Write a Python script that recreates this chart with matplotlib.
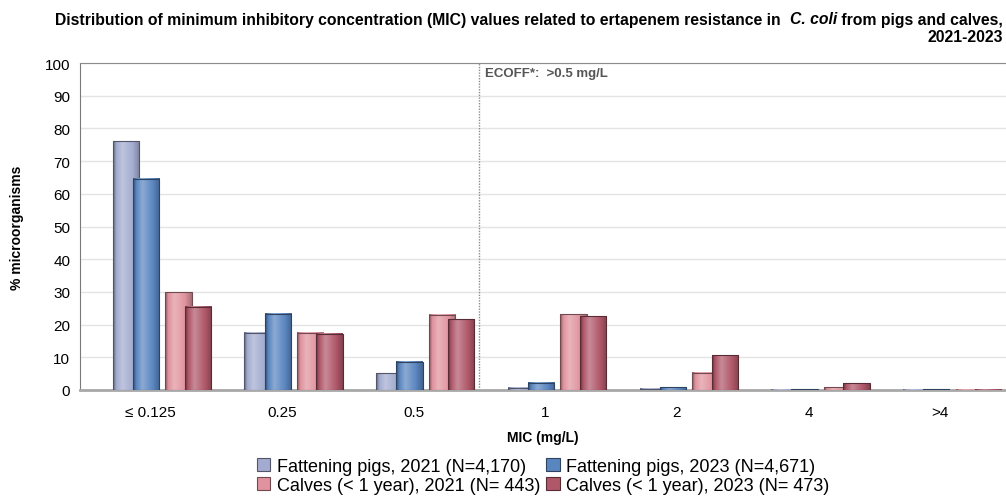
import matplotlib.pyplot as plt
import numpy as np
from matplotlib.colors import LinearSegmentedColormap, to_rgb
from matplotlib.patches import Patch

plt.rcParams['font.family'] = ['Liberation Sans', 'DejaVu Sans']

# MIC classes and % of isolates per class
mic_labels = ["≤ 0.125", "0.25", "0.5", "1", "2", "4", ">4"]
pigs_2021 = [76.0, 17.5, 5.1, 0.7, 0.4, 0.1, 0.1]
pigs_2023 = [64.6, 23.3, 8.7, 2.2, 0.8, 0.2, 0.2]
calves_2021 = [29.9, 17.5, 23.0, 23.1, 5.2, 0.8, 0.1]
calves_2023 = [25.4, 17.2, 21.6, 22.5, 10.6, 2.1, 0.1]
series_names = ["Fattening pigs, 2021 (N=4,170)", "Fattening pigs, 2023 (N=4,671)",
                "Calves (< 1 year), 2021 (N= 443)", "Calves (< 1 year), 2023 (N= 473)"]
ecoff_label = "ECOFF*:  >0.5 mg/L"
ecoff_pos = 2.5

colors = ["#a3acd0", "#5a86c0", "#e0939e", "#b0586a"]
offsets = [-0.283, -0.131, 0.116, 0.263]
bar_w = 0.2


def shaded_cmap(base):
    c = np.array(to_rgb(base))
    dark = c * 0.6
    light = c + (1 - c) * 0.3
    return LinearSegmentedColormap.from_list(
        "bar", [(0, dark), (0.12, c), (0.35, light), (0.75, c), (1, c * 0.75)])


fig = plt.figure(figsize=(10.06, 5.02), dpi=100)
ax = fig.add_axes([80 / 1006, 1 - 391 / 502, 926 / 1006, (391 - 64) / 502])

grad = np.linspace(0, 1, 64).reshape(1, -1)
x = np.arange(len(mic_labels))
for k, values in enumerate([pigs_2021, pigs_2023, calves_2021, calves_2023]):
    cmap = shaded_cmap(colors[k])
    edge = np.array(to_rgb(colors[k])) * 0.5
    for i, v in enumerate(values):
        left = x[i] + offsets[k]
        ax.imshow(grad, cmap=cmap, extent=[left, left + bar_w, 0, v],
                  aspect='auto', zorder=3 + k * 0.1, interpolation='bilinear')
        ax.bar(left, v, bar_w, align='edge', facecolor='none', edgecolor=edge,
               linewidth=0.8, zorder=3.05 + k * 0.1)

ax.set_xlim(-0.532, 6.499)
ax.set_ylim(0, 100)
ax.set_yticks(range(0, 101, 10))
ax.set_xticks(x)
ax.set_xticklabels(mic_labels)
ax.tick_params(axis='both', labelsize=11, length=0)
ax.tick_params(axis='x', pad=11)
ax.tick_params(axis='y', pad=7)
ax.grid(axis='y', color='#e4e4e4', linewidth=1, zorder=0)
ax.set_axisbelow(True)

ax.spines['right'].set_visible(False)
ax.spines['top'].set_color('#8c8c8c')
ax.spines['left'].set_color('#7a7a7a')
ax.spines['bottom'].set_color('#a8a8a8')
ax.spines['bottom'].set_linewidth(2)

ax.axvline(ecoff_pos, color='#8c8c8c', linestyle=(0, (1, 1)), linewidth=1, zorder=2)
ax.text(ecoff_pos + 0.04, 97, ecoff_label, fontsize=9.5, fontweight='bold',
        color='#555555', va='center', ha='left')

ax.set_ylabel("% microorganisms", fontsize=10, fontweight='bold', labelpad=15)
ax.set_xlabel("MIC (mg/L)", fontsize=10, fontweight='bold', labelpad=8)

# title with italic species name, built right to left
tfont = dict(family=['Liberation Sans'], fontsize=11.3, fontweight='bold')
ty = 1 - 20 / 502
t3 = fig.text(1003 / 1006, ty, " from pigs and calves,", ha='right', va='center', **tfont)
t2 = fig.text(0, ty, "C. coli", style='italic', ha='right', va='center', **tfont)
fig.canvas.draw()
inv = fig.transFigure.inverted()
t2.set_position((inv.transform((t3.get_window_extent().x0, 0))[0], ty))
fig.canvas.draw()
x2 = inv.transform((t2.get_window_extent().x0, 0))[0]
fig.text(x2, ty,
         "Distribution of minimum inhibitory concentration (MIC) values related to ertapenem resistance in  ",
         ha='right', va='center', **tfont)
fig.text(1003 / 1006, 1 - 38 / 502, "2021-2023", ha='right', va='center', **tfont)

# legend filled column-wise, so order the handles to read row by row
handles = [Patch(facecolor=c, edgecolor=np.array(to_rgb(c)) * 0.5, linewidth=0.8) for c in colors]
order = [0, 2, 1, 3]
fig.legend([handles[i] for i in order], [series_names[i] for i in order],
           loc='center', bbox_to_anchor=(543 / 1006, 1 - 477 / 502),
           ncol=2, frameon=False, fontsize=13, handlelength=0.75, handleheight=0.75,
           handletextpad=0.35, columnspacing=0.35, labelspacing=0.12,
           borderpad=0, borderaxespad=0)

fig.savefig("out.png", dpi=100)
